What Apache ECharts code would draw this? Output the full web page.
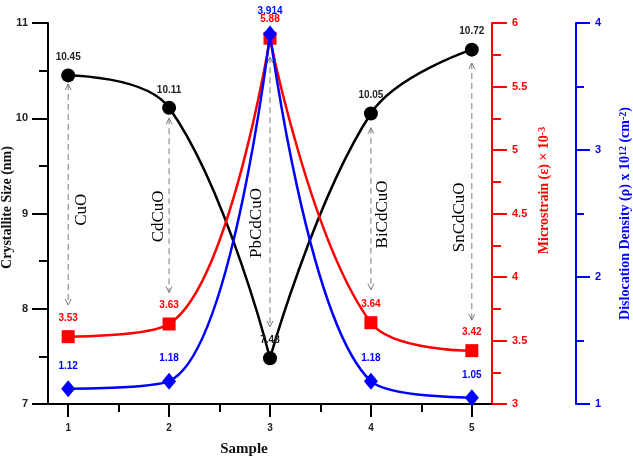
<!DOCTYPE html>
<html><head><meta charset="utf-8">
<script src="https://cdn.jsdelivr.net/npm/echarts@6/dist/echarts.min.js"></script>
<style>html,body{margin:0;padding:0;background:#fff}#c{width:633px;height:456px}</style>
</head><body><div id="c"></div>
<script>
// ---- data ----
const samples = [1, 2, 3, 4, 5];
const sampleNames = ['CuO', 'CdCuO', 'PbCdCuO', 'BiCdCuO', 'SnCdCuO'];
const crystalliteSize = [10.45, 10.11, 7.48, 10.05, 10.72];
const microstrain = [3.53, 3.63, 5.88, 3.64, 3.42];
const dislocationDensity = [1.12, 1.18, 3.914, 1.18, 1.05];
const xTicks = [1, 2, 3, 4, 5];
const xMinorTicks = [1.5, 2.5, 3.5, 4.5];
// annotation arrows, in crystallite-size units
const arrowTop = [10.36, 10.0, 10.64, 9.9, 10.58];
const arrowBottom = [8.04, 8.17, 7.81, 8.20, 7.88];
const nameCentre = [9.04, 8.97, 8.9, 8.99, 8.96];
const nameSide = [13, -11, -13, 12, -12];

const RED = '#ff0000', BLUE = '#0000ff', BLACK = '#000000';
const SANS = 'Liberation Sans', SERIF = 'Liberation Serif';

function pairs(arr) { return samples.map((s, i) => [s, arr[i]]); }
function halves(arr, color, yAxisIndex, z) {
  const p = pairs(arr);
  return [p.slice(0, 3), p.slice(2)].map(d => ({
    type: 'line', data: d, yAxisIndex, smooth: 0.4, showSymbol: false, symbol: 'none',
    lineStyle: { color, width: 2.5 }, z, silent: true, animation: false
  }));
}
function markers(arr, color, yAxisIndex, symbol, size, dist, z) {
  return {
    type: 'scatter', data: pairs(arr), yAxisIndex, symbol, symbolSize: size, z,
    itemStyle: { color, opacity: 1 }, animation: false,
    label: { show: true, position: 'top', distance: dist, color: color === BLACK ? '#222' : color,
      fontFamily: SANS, fontWeight: 'bold', fontSize: 10,
      formatter: p => String(p.value[1]) }
  };
}

const chart = echarts.init(document.getElementById('c'), null, { renderer: 'canvas' });
const tickLabel = (color, size) => ({ color, fontFamily: SANS, fontWeight: 'bold', fontSize: size });

chart.setOption({
  animation: false,
  grid: { left: 48, right: 141, top: 23, bottom: 52, containLabel: false, outerBoundsMode: 'none' },
  xAxis: [{
    type: 'value', min: 0.8, max: 5.2, position: 'bottom',
    name: 'Sample', nameLocation: 'middle', nameGap: 38, nameMoveOverlap: false,
    nameTextStyle: { fontFamily: SERIF, fontWeight: 'bold', fontSize: 15, color: '#111', padding: [0, 52, 0, 0] },
    axisLine: { show: true, lineStyle: { color: BLACK, width: 2 } },
    axisTick: { show: true, customValues: xTicks, length: 13, lineStyle: { color: BLACK, width: 2 } },
    axisLabel: { show: true, customValues: xTicks, margin: 19, ...tickLabel('#222', 10) },
    splitLine: { show: false }
  }, {
    type: 'value', min: 0.8, max: 5.2, position: 'bottom',
    axisLine: { show: false },
    axisTick: { show: true, customValues: xMinorTicks, length: 8, lineStyle: { color: BLACK, width: 2 } },
    axisLabel: { show: false },
    splitLine: { show: false }
  }],
  yAxis: [{
    type: 'value', min: 7, max: 11, interval: 1, position: 'left',
    name: 'Crystallite Size (nm)', nameLocation: 'middle', nameGap: 34, nameMoveOverlap: false,
    nameTextStyle: { fontFamily: SERIF, fontWeight: 'bold', fontSize: 14, color: '#111', padding: [0, 0, 0, 12] },
    axisLine: { show: true, lineStyle: { color: BLACK, width: 2 } },
    axisTick: { show: true, length: 16, lineStyle: { color: BLACK, width: 2 } },
    minorTick: { show: true, splitNumber: 2, length: 9, lineStyle: { color: BLACK, width: 2 } },
    axisLabel: { margin: 20, ...tickLabel('#222', 11) },
    splitLine: { show: false }, minorSplitLine: { show: false }
  }, {
    type: 'value', min: 3, max: 6, interval: 0.5, position: 'right', offset: 0,
    name: 'Microstrain (ε) × 10{sup|-3}', nameLocation: 'middle', nameGap: 45, nameMoveOverlap: false,
    nameTextStyle: { fontFamily: SERIF, fontWeight: 'bold', fontSize: 14, color: RED, padding: [0, 0, 0, 46],
      rich: { sup: { fontFamily: SERIF, fontWeight: 'bold', fontSize: 10, color: RED, verticalAlign: 'top' } } },
    axisLine: { show: true, lineStyle: { color: RED, width: 2 } },
    axisTick: { show: true, length: 15, lineStyle: { color: RED, width: 2 } },
    minorTick: { show: true, splitNumber: 2, length: 9, lineStyle: { color: RED, width: 2 } },
    axisLabel: { margin: 20, ...tickLabel(RED, 11) },
    splitLine: { show: false }, minorSplitLine: { show: false }
  }, {
    type: 'value', min: 1, max: 4, interval: 1, position: 'right', offset: 84,
    name: 'Dislocation Density (ρ) x 10{sup|12} (cm{sup|-2})', nameLocation: 'middle', nameGap: 42, nameMoveOverlap: false,
    nameTextStyle: { fontFamily: SERIF, fontWeight: 'bold', fontSize: 14, color: BLUE,
      rich: { sup: { fontFamily: SERIF, fontWeight: 'bold', fontSize: 10, color: BLUE, verticalAlign: 'top' } } },
    axisLine: { show: true, lineStyle: { color: BLUE, width: 2 } },
    axisTick: { show: true, length: 14, lineStyle: { color: BLUE, width: 2 } },
    minorTick: { show: true, splitNumber: 2, length: 8, lineStyle: { color: BLUE, width: 2 } },
    axisLabel: { margin: 19, ...tickLabel(BLUE, 11) },
    splitLine: { show: false }, minorSplitLine: { show: false }
  }],
  series: [
    {
      type: 'custom', xAxisIndex: 0, yAxisIndex: 0, z: 1, silent: true,
      data: samples.map((s, i) => [s, arrowTop[i], arrowBottom[i], nameCentre[i]]),
      encode: { x: 0, y: [1, 2] },
      renderItem: function (params, api) {
        const i = params.dataIndex;
        const top = api.coord([api.value(0), api.value(1)]);
        const bot = api.coord([api.value(0), api.value(2)]);
        const mid = api.coord([api.value(0), api.value(3)]);
        const c = '#7a7a7a', h = 6, w = 3;
        return { type: 'group', children: [
          { type: 'line', shape: { x1: top[0], y1: top[1], x2: bot[0], y2: bot[1] },
            style: { stroke: c, lineWidth: 1, lineDash: [6, 4] } },
          { type: 'polyline', shape: { points: [[top[0] - w, top[1] + h], [top[0], top[1]], [top[0] + w, top[1] + h]] },
            style: { stroke: c, lineWidth: 1, fill: null } },
          { type: 'polyline', shape: { points: [[bot[0] - w, bot[1] - h], [bot[0], bot[1]], [bot[0] + w, bot[1] - h]] },
            style: { stroke: c, lineWidth: 1, fill: null } },
          { type: 'text', x: mid[0] + nameSide[i], y: mid[1], rotation: Math.PI / 2,
            style: { text: sampleNames[i], fontFamily: SERIF, fontSize: 17, fill: '#000', align: 'center', verticalAlign: 'middle' } }
        ] };
      }
    },
    ...halves(crystalliteSize, BLACK, 0, 2),
    markers(crystalliteSize, BLACK, 0, 'circle', 14, 6, 3),
    ...halves(microstrain, RED, 1, 4),
    markers(microstrain, RED, 1, 'rect', 13, 7, 5),
    ...halves(dislocationDensity, BLUE, 2, 6),
    markers(dislocationDensity, BLUE, 2, 'diamond', [14, 17], 9, 7)
  ]
});
</script>
</body></html>
